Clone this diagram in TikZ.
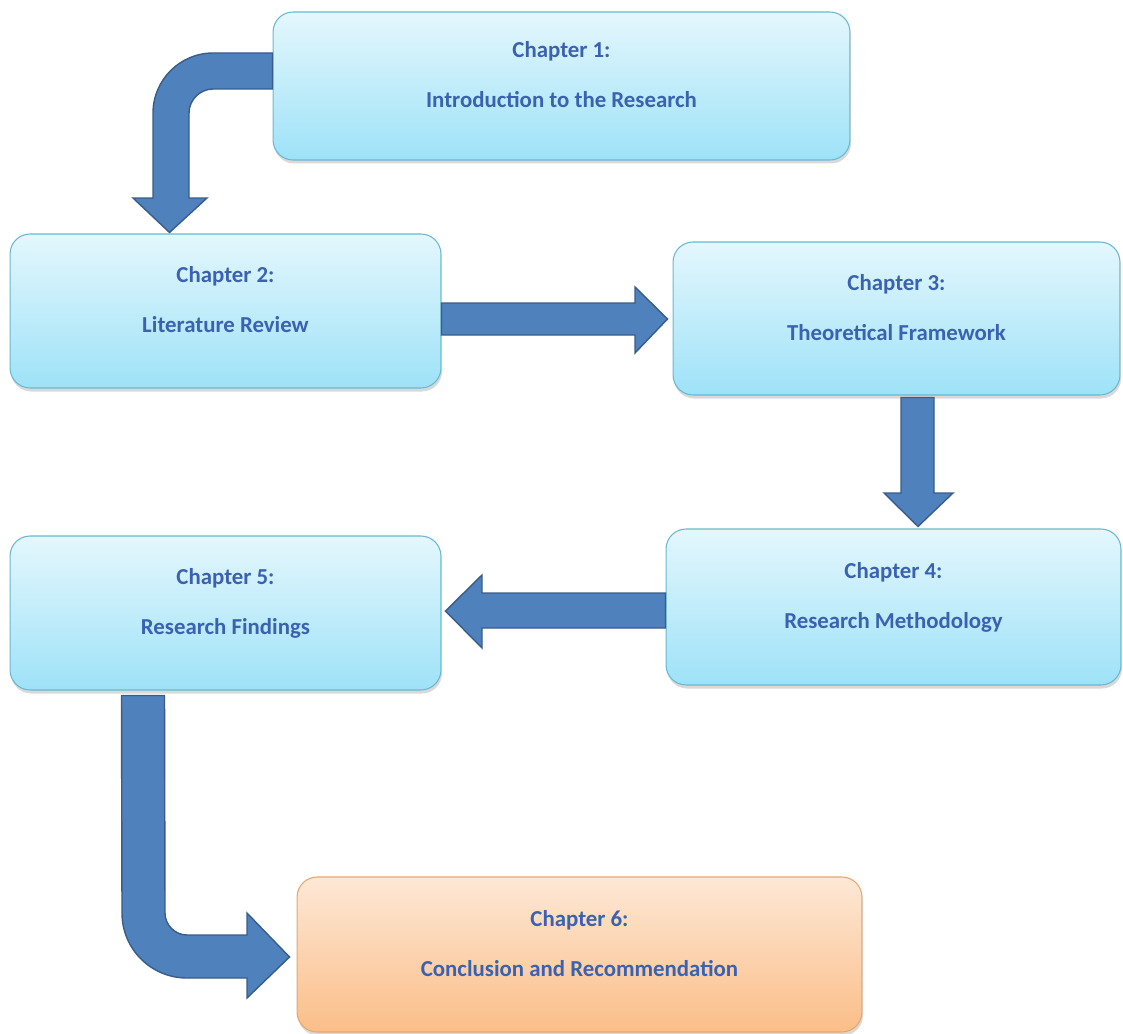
\documentclass[tikz,border=0pt]{standalone}
\usepackage{fontspec}
\setmainfont{Carlito}
\usetikzlibrary{calc,shadows}

\definecolor{boxtop}{RGB}{228,247,253}
\definecolor{boxbottom}{RGB}{158,226,248}
\definecolor{boxline}{RGB}{104,184,210}
\definecolor{lasttop}{RGB}{253,232,214}
\definecolor{lastbottom}{RGB}{251,190,136}
\definecolor{lastline}{RGB}{232,166,108}
\definecolor{arrowfill}{RGB}{79,129,189}
\definecolor{arrowline}{RGB}{56,93,138}
\definecolor{chaptext}{RGB}{58,98,176}

\newcommand{\boxtext}[2]{\raisebox{2pt}[0pt][0pt]{\begin{tabular}{c}#1\\[13pt]#2\end{tabular}}}

\tikzset{
  chapbox/.style={draw=boxline, line width=0.6pt, rounded corners=0.4cm,
    top color=boxtop, bottom color=boxbottom, inner sep=0pt,
    text=chaptext, font=\fontsize{13}{15.6}\selectfont\bfseries,
    drop shadow={shadow xshift=0.6pt, shadow yshift=-2pt, opacity=0.3}},
  lastbox/.style={chapbox, draw=lastline, top color=lasttop, bottom color=lastbottom},
  blockarrow/.style={fill=arrowfill, draw=arrowline, line width=0.8pt, line join=miter}
}

\begin{document}
\begin{tikzpicture}[x=0.02cm, y=-0.02cm]
    \useasboundingbox (0,0) rectangle (1123,1034);

    % Chapter boxes
    \node[chapbox, minimum width=11.54cm, minimum height=2.96cm] (ch1) at (561.5,86)
        {\boxtext{Chapter 1:}{Introduction to the Research}};
    \node[chapbox, minimum width=8.62cm, minimum height=3.08cm] (ch2) at (225.5,311)
        {\boxtext{Chapter 2:}{Literature Review}};
    \node[chapbox, minimum width=8.94cm, minimum height=3.06cm] (ch3) at (896.5,318.5)
        {\boxtext{Chapter 3:}{Theoretical Framework}};
    \node[chapbox, minimum width=9.1cm, minimum height=3.12cm] (ch4) at (893.5,607)
        {\boxtext{Chapter 4:}{Research Methodology}};
    \node[chapbox, minimum width=8.62cm, minimum height=3.08cm] (ch5) at (225.5,613)
        {\boxtext{Chapter 5:}{Research Findings}};
    \node[lastbox, minimum width=11.3cm, minimum height=3.1cm] (ch6) at (579.5,954.5)
        {\boxtext{Chapter 6:}{Conclusion and Recommendation}};

    % Bent arrow from chapter 1 down to chapter 2
    \draw[blockarrow] ($(ch1.west)+(0,-33)$) -- (213,53)
        .. controls (180,53) and (153,80) .. (153,113) -- (153,198) -- (133,198)
        -- ($(ch2.north west)+(160,-1)$) -- (207,198) -- (189,198) -- (189,113)
        .. controls (189,100) and (200,89) .. (213,89) -- ($(ch1.west)+(0,3)$) -- cycle;

    % Chapter 2 to chapter 3
    \draw[blockarrow] ($(ch2.east)+(0,-8)$) -- (635,303) -- (635,287)
        -- ($(ch3.west)+(-5,0.5)$) -- (635,353) -- (635,335) -- ($(ch2.east)+(0,24)$) -- cycle;

    % Chapter 3 to chapter 4
    \draw[blockarrow] ($(ch3.south)+(4.5,2)$) -- (901,493) -- (884,493)
        -- ($(ch4.north)+(24.5,-2)$) -- (953,493) -- (934,493) -- ($(ch3.south)+(37.5,2)$) -- cycle;

    % Chapter 4 to chapter 5
    \draw[blockarrow] ($(ch4.west)+(0,-14)$) -- (482,593) -- (482,575)
        -- ($(ch5.east)+(4,-2)$) -- (482,648) -- (482,628) -- ($(ch4.west)+(0,21)$) -- cycle;

    % Bent arrow from chapter 5 to chapter 6
    \draw[blockarrow] ($(ch5.south west)+(112,5)$) -- (122,913)
        .. controls (122,949) and (151,978) .. (187,978) -- (247,978) -- (247,998)
        -- ($(ch6.west)+(-7,2.5)$) -- (247,913) -- (247,935) -- (187,935)
        .. controls (175,935) and (165,925) .. (165,913) -- ($(ch5.south west)+(155,5)$) -- cycle;
\end{tikzpicture}
\end{document}
